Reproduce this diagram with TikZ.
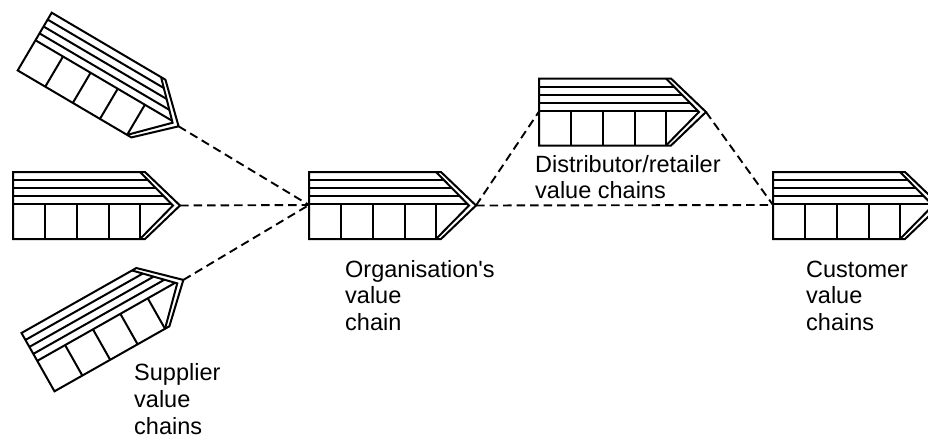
\documentclass[tikz,border=0pt]{standalone}
\usepackage{fontspec}
\setmainfont{Liberation Sans}
\begin{document}
\begin{tikzpicture}[x=1pt,y=-1pt,
  chainline/.style={line width=2pt},
  link/.style={line width=1.9pt,dash pattern=on 8.5pt off 5pt},
  caption/.style={anchor=base west,inner sep=0pt,align=left,
    font=\fontsize{23.5}{26.8}\selectfont},
  valuechain/.pic={
    % outline with outer chevron
    \draw[chainline] (0,0) -- (132,0) -- (167,33.5) -- (132,67) -- (0,67) -- cycle;
    % inner chevron
    \draw[chainline] (127,0) -- (160,33.5) -- (127,67);
    % support activity stripes
    \foreach \yy in {8,16,24,32}
      \draw[chainline] (0,\yy) -- ({127+33*\yy/33.5},\yy);
    % primary activity cells
    \foreach \xx in {32,64,95.5,127}
      \draw[chainline] (\xx,32) -- (\xx,67);
    \coordinate (-tip) at (167,33.5);
    \coordinate (-in) at (0,33);
  }]
\useasboundingbox (0,0) rectangle (928,439);
\clip (0,0) rectangle (928,439);

% supplier value chains
\pic[rotate=-30.5] (supA) at (51.7,12.7) {valuechain};
\pic (supB) at (13,172) {valuechain};
\pic[rotate=29.5] (supC) at (21.5,333) {valuechain};

% organisation, distributors, customers
\pic (org) at (309,172) {valuechain};
\pic (dist) at (539,78.5) {valuechain};
\pic (cust) at (773,172) {valuechain};

% links between the chains
\draw[link] (supA-tip) -- (org-in);
\draw[link] (supB-tip) -- (org-in);
\draw[link] (supC-tip) -- (org-in);
\draw[link] (org-tip) -- (dist-in);
\draw[link] (dist-tip) -- (cust-in);
\draw[link] (org-tip) -- (cust-in);

% captions (anchored at the baseline of their last line)
\node[caption] (lsup) at (134,434.5) {Supplier\\value\\chains};
\node[caption] (lorg) at (345,330.6) {Organisation\textquotesingle s\\value\\chain};
\node[caption] (ldist) at (535,198.8) {Distributor/retailer\\value chains};
\node[caption] (lcust) at (806,330.6) {Customer\\value\\chains};
\end{tikzpicture}
\end{document}
